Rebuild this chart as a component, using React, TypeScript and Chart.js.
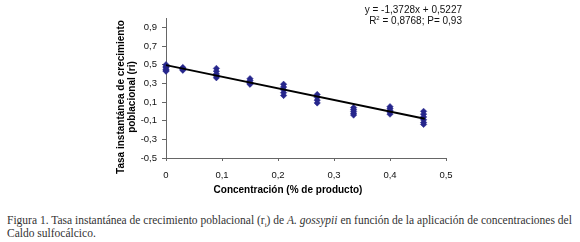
import React, { useEffect, useRef } from "react";
import { Chart, registerables } from "chart.js";

Chart.register(...registerables);

// Concentrations (% of product) on the x axis
const concentrations = [0, 0.03, 0.09, 0.15, 0.21, 0.27, 0.335, 0.4, 0.46];
// Replicate values of r_i for each concentration
const replicates: number[][] = [
  [0.5, 0.48, 0.47, 0.45, 0.44, 0.43],
  [0.47, 0.46, 0.45, 0.44],
  [0.46, 0.43, 0.4, 0.38, 0.36],
  [0.35, 0.33, 0.31, 0.3, 0.29],
  [0.29, 0.26, 0.23, 0.2, 0.17],
  [0.18, 0.15, 0.12, 0.09],
  [0.04, 0.02, 0.0, -0.02, -0.04],
  [0.05, 0.03, 0.01, -0.01, -0.03],
  [0.0, -0.03, -0.06, -0.09, -0.12, -0.14],
];
// Trend line end points
const trendX = [0, 0.462];
const trendY = [0.495, -0.08];

const xTicks = [0, 0.1, 0.2, 0.3, 0.4, 0.5];
const xTickLabels = ["0", "0,1", "0,2", "0,3", "0,4", "0,5"];
const yTicks = [-0.5, -0.3, -0.1, 0.1, 0.3, 0.5, 0.7, 0.9];
const yTickLabels = ["-0,5", "-0,3", "-0,1", "0,1", "0,3", "0,5", "0,7", "0,9"];

const equationLine1 = "y = -1,3728x + 0,5227";
const yTitle = ["Tasa instantánea de crecimiento", "poblacional (ri)"];
const xTitle = "Concentración (% de producto)";

export default function App() {
  const ref = useRef<HTMLCanvasElement>(null);

  useEffect(() => {
    if (!ref.current) return;
    const points: { x: number; y: number }[] = [];
    concentrations.forEach((c, i) => replicates[i].forEach((v) => points.push({ x: c, y: v })));
    const trend = trendX.map((x, i) => ({ x, y: trendY[i] }));
    const tickFont = { family: "'Liberation Sans', Arial, sans-serif", size: 9.5 };
    const chart = new Chart(ref.current, {
      type: "scatter",
      data: {
        datasets: [
          {
            data: trend,
            showLine: true,
            borderColor: "#000",
            borderWidth: 2,
            pointRadius: 0,
            clip: false,
            order: 0,
          } as any,
          {
            data: points,
            pointStyle: "rectRot",
            pointRadius: 3.2,
            backgroundColor: "#26268c",
            borderColor: "#26268c",
            borderWidth: 0.5,
            clip: false,
            order: 1,
          } as any,
        ],
      },
      options: {
        responsive: false,
        animation: false,
        layout: { padding: { left: 0, top: 18, right: 134, bottom: 0 } },
        plugins: { legend: { display: false }, tooltip: { enabled: false } },
        scales: {
          x: {
            type: "linear",
            min: 0,
            max: 0.5,
            afterBuildTicks: (s: any) => {
              s.ticks = xTicks.map((v) => ({ value: v }));
            },
            afterFit: (s: any) => {
              s.height = 42;
            },
            ticks: {
              font: tickFont,
              color: "#111",
              padding: 9,
              maxRotation: 0,
              callback: (v: any) => xTickLabels[xTicks.indexOf(Number(v))] ?? "",
            },
            grid: { drawOnChartArea: false, drawTicks: true, tickLength: 3, color: "#666" },
            border: { color: "#666", width: 1 },
          },
          y: {
            type: "linear",
            min: -0.5,
            max: 1.0,
            afterBuildTicks: (s: any) => {
              s.ticks = yTicks.map((v) => ({ value: v }));
            },
            afterFit: (s: any) => {
              s.width = 166;
            },
            ticks: {
              font: tickFont,
              color: "#111",
              padding: 5,
              callback: (v: any) => {
                const i = yTicks.findIndex((t) => Math.abs(t - Number(v)) < 1e-9);
                return i >= 0 ? yTickLabels[i] : "";
              },
            },
            grid: { drawOnChartArea: false, drawTicks: true, tickLength: 4, color: "#666" },
            border: { color: "#666", width: 1 },
          },
        },
      },
    });
    return () => chart.destroy();
  }, []);

  const sans = "'Liberation Sans', Arial, sans-serif";
  return (
    <div style={{ position: "absolute", left: 0, top: 0, width: 580, height: 242, background: "#fff", overflow: "hidden" }}>
      <canvas ref={ref} width={580} height={200} style={{ position: "absolute", left: 0, top: 0 }} />
      <div
        style={{
          position: "absolute",
          right: 580 - 462,
          top: 4,
          fontFamily: sans,
          fontSize: 10,
          lineHeight: "11px",
          textAlign: "right",
          color: "#111",
          whiteSpace: "nowrap",
        }}
      >
        <div>{equationLine1}</div>
        <div>
          R<sup style={{ fontSize: 6, verticalAlign: "4px", lineHeight: 0 }}>2</sup> = 0,8768; P= 0,93
        </div>
      </div>
      <div
        style={{
          position: "absolute",
          left: 125.5 - 90,
          top: 97 - 11,
          width: 180,
          height: 22,
          transform: "rotate(-90deg)",
          transformOrigin: "center center",
          fontFamily: sans,
          fontWeight: "bold",
          fontSize: 10,
          lineHeight: "11px",
          textAlign: "center",
          color: "#000",
          whiteSpace: "nowrap",
        }}
      >
        <div>{yTitle[0]}</div>
        <div>{yTitle[1]}</div>
      </div>
      <div
        style={{
          position: "absolute",
          left: 288 - 100,
          top: 184,
          width: 200,
          textAlign: "center",
          fontFamily: sans,
          fontWeight: "bold",
          fontSize: 10,
          lineHeight: "12px",
          color: "#000",
          whiteSpace: "nowrap",
        }}
      >
        {xTitle}
      </div>
      <div
        style={{
          position: "absolute",
          left: 7,
          top: 214,
          fontFamily: "'Liberation Serif', 'Times New Roman', serif",
          fontSize: 11.5,
          lineHeight: "12.5px",
          color: "#333",
          whiteSpace: "nowrap",
        }}
      >
        Figura 1. Tasa instantánea de crecimiento poblacional (r<sub style={{ fontSize: 7, lineHeight: 0 }}>i</sub>) de{" "}
        <i>A. gossypii</i> en función de la aplicación de concentraciones del
        <br />
        Caldo sulfocálcico.
      </div>
    </div>
  );
}
